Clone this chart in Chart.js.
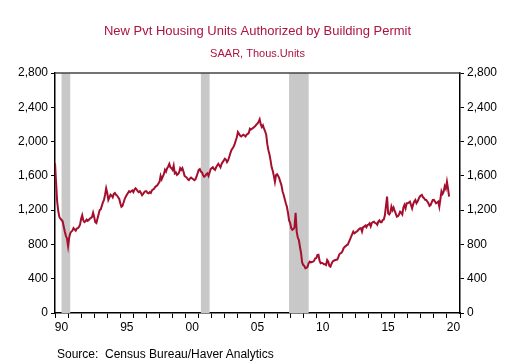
<!DOCTYPE html>
<html>
<head>
<meta charset="utf-8">
<script src="https://cdn.jsdelivr.net/npm/chart.js@4.4.1/dist/chart.umd.min.js"></script>
<style>
  html, body { margin: 0; padding: 0; background: #fff; }
  #wrap { position: relative; width: 515px; height: 362px; }
  #source {
    position: absolute; left: 57px; top: 347px;
    font: 12px "Liberation Sans", Arial, sans-serif; color: #000; white-space: pre;
  }
</style>
</head>
<body>
<div id="wrap">
  <canvas id="permitsChart" width="515" height="362"></canvas>
  <div id="source">Source:  Census Bureau/Haver Analytics</div>
</div>
<script>
// monthly series, Jan 1990 .. Mar 2020 (thous. units, SAAR)
const startYear = 1990;
const permits = [
  1750, 1520, 1300, 1190, 1120, 1100, 1085, 1070, 1010, 950, 900, 870,   // 1990
  780, 880, 930, 950, 960, 990, 975, 960, 985, 990, 1005, 1030,          // 1991
  1100, 1140, 1080, 1060, 1070, 1090, 1075, 1085, 1100, 1110, 1120, 1170, // 1992
  1120, 1060, 1050, 1100, 1150, 1200, 1210, 1250, 1290, 1320, 1380, 1455, // 1993
  1400, 1320, 1350, 1380, 1370, 1350, 1390, 1400, 1380, 1370, 1350, 1330, // 1994
  1280, 1240, 1250, 1290, 1330, 1357, 1380, 1400, 1420, 1410, 1420, 1430, // 1995
  1410, 1440, 1455, 1440, 1420, 1410, 1420, 1400, 1375, 1390, 1410, 1420, // 1996
  1420, 1400, 1396, 1410, 1400, 1430, 1440, 1450, 1470, 1480, 1490, 1510, // 1997
  1530, 1600, 1560, 1590, 1620, 1670, 1650, 1690, 1710, 1740, 1700, 1690, // 1998
  1670, 1720, 1630, 1640, 1610, 1620, 1640, 1690, 1670, 1690, 1650, 1600, // 1999
  1590, 1580, 1560, 1550, 1570, 1580, 1570, 1560, 1550, 1560, 1590, 1630, // 2000
  1670, 1680, 1650, 1640, 1610, 1590, 1600, 1620, 1630, 1600, 1640, 1680, // 2001
  1690, 1700, 1680, 1670, 1700, 1720, 1740, 1720, 1700, 1740, 1760, 1780, // 2002
  1800, 1790, 1760, 1780, 1820, 1860, 1900, 1920, 1940, 1970, 2010, 2050, // 2003
  2110, 2090, 2070, 2060, 2070, 2080, 2070, 2060, 2080, 2090, 2100, 2150, // 2004
  2140, 2150, 2160, 2170, 2180, 2200, 2210, 2230, 2260, 2200, 2170, 2190, // 2005
  2150, 2120, 2080, 1970, 1900, 1850, 1780, 1700, 1660, 1600, 1530, 1610, // 2006
  1620, 1600, 1570, 1530, 1490, 1420, 1380, 1330, 1280, 1240, 1170, 1080, // 2007
  1050, 990, 970, 980, 1000, 1170, 950, 880, 850, 770, 700, 590,         // 2008
  560, 550, 521, 525, 540, 580, 599, 590, 595, 599, 610, 638,            // 2009
  640, 677, 680, 610, 580, 585, 580, 570, 570, 560, 618, 600,            // 2010
  550, 540, 575, 600, 610, 615, 620, 620, 640, 680, 696, 700,            // 2011
  720, 755, 770, 780, 793, 800, 830, 860, 891, 920, 949, 930,            // 2012
  940, 949, 960, 975, 988, 990, 950, 1000, 1007, 1020, 1000, 1027,       // 2013
  1030, 1046, 1010, 1050, 1060, 1066, 1050, 1046, 1030, 1066, 1080, 1060, // 2014
  1060, 1085, 1090, 1140, 1250, 1357, 1163, 1150, 1170, 1240, 1200, 1230, // 2015
  1190, 1160, 1124, 1130, 1150, 1182, 1170, 1150, 1230, 1260, 1220, 1280, // 2016
  1280, 1290, 1299, 1260, 1221, 1270, 1300, 1318, 1280, 1300, 1330, 1357, // 2017
  1370, 1377, 1350, 1340, 1320, 1318, 1300, 1280, 1250, 1260, 1290, 1318, // 2018
  1320, 1300, 1280, 1290, 1300, 1240, 1330, 1420, 1390, 1416, 1480, 1450, // 2019
  1532, 1450, 1357                                                        // 2020
];

// NBER recessions (start month, end month)
const recessions = [
  ['1990-07', '1991-03'],
  ['2001-03', '2001-11'],
  ['2007-12', '2009-06']
];

const yTicks = [0, 400, 800, 1200, 1600, 2000, 2400, 2800];
const labelYears = [1990, 1995, 2000, 2005, 2010, 2015, 2020];

const lineColor = '#a50f2d';
const fontFamily = '"Liberation Sans", Arial, sans-serif';

function monthToYear(s) {
  const [y, m] = s.split('-').map(Number);
  return y + (m - 1) / 12;
}

const points = permits.map((v, i) => ({ x: startYear + i / 12, y: v }));

// shaded recession bars + top frame line
const recessionShading = {
  id: 'recessionShading',
  beforeDatasetsDraw(chart) {
    const { ctx, chartArea, scales } = chart;
    ctx.save();
    ctx.fillStyle = '#c8c8c8';
    recessions.forEach(([a, b]) => {
      const x1 = scales.x.getPixelForValue(monthToYear(a));
      const x2 = scales.x.getPixelForValue(monthToYear(b));
      ctx.fillRect(x1, chartArea.top, x2 - x1, chartArea.bottom - chartArea.top);
    });
    ctx.restore();
  },
  afterDraw(chart) {
    const { ctx, chartArea } = chart;
    ctx.save();
    ctx.strokeStyle = '#444';
    ctx.lineWidth = 1.5;
    ctx.beginPath();
    ctx.moveTo(chartArea.left, chartArea.top);
    ctx.lineTo(chartArea.right, chartArea.top);
    ctx.stroke();
    ctx.restore();
  }
};

Chart.defaults.font.family = fontFamily;
Chart.defaults.color = '#000';

const yAxis = (position) => ({
  type: 'linear',
  position: position,
  display: true,
  min: 0,
  max: 2800,
  afterBuildTicks: (scale) => { scale.ticks = yTicks.map(v => ({ value: v })); },
  afterFit: (scale) => { scale.width = 55; },
  border: { display: true, color: '#000', width: 1.5 },
  grid: { drawOnChartArea: false, drawTicks: true, tickLength: 4, color: '#000' },
  ticks: {
    padding: 3,
    font: { size: 12 },
    callback: (v) => v.toLocaleString('en-US')
  }
});

const config = {
  type: 'line',
  data: {
    datasets: [{
      label: 'Permits',
      data: points,
      borderColor: lineColor,
      borderWidth: 2,
      pointRadius: 0,
      tension: 0,
      fill: false
    }]
  },
  options: {
    responsive: false,
    animation: false,
    devicePixelRatio: 1,
    layout: { padding: 0 },
    plugins: {
      legend: { display: false },
      tooltip: { enabled: false },
      title: {
        display: true,
        text: 'New Pvt Housing Units Authorized by Building Permit',
        color: '#ad1440',
        font: { size: 13, weight: 'normal' },
        padding: { top: 24, bottom: 8 }
      },
      subtitle: {
        display: true,
        text: 'SAAR, Thous.Units',
        color: '#ad1440',
        font: { size: 11, weight: 'normal' },
        padding: { top: 0, bottom: 12.2 }
      }
    },
    scales: {
      x: {
        type: 'linear',
        position: 'bottom',
        min: 1990,
        max: 2021,
        afterFit: (scale) => { scale.height = 49; },
        border: { display: true, color: '#000', width: 1.5 },
        grid: { drawOnChartArea: false, drawTicks: true, tickLength: 5, color: '#000' },
        ticks: {
          stepSize: 1,
          autoSkip: false,
          maxRotation: 0,
          padding: 2,
          labelOffset: 6.5,
          font: { size: 12 },
          callback: (v) => labelYears.includes(v) ? String(v).slice(2) : ''
        }
      },
      y: yAxis('left'),
      y2: yAxis('right')
    }
  },
  plugins: [recessionShading]
};

const permitsChart = new Chart(document.getElementById('permitsChart'), config);
</script>
</body>
</html>
